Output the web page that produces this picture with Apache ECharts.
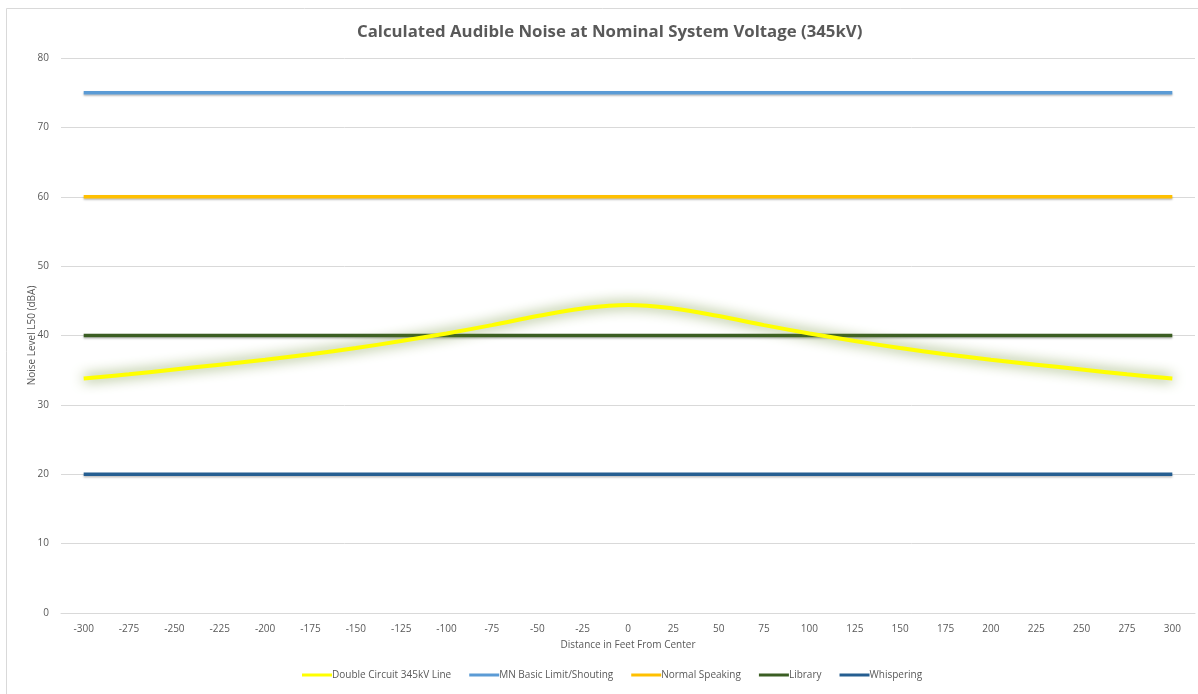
<!DOCTYPE html>
<html>
<head>
<meta charset="utf-8">
<script src="https://cdn.jsdelivr.net/npm/echarts@6/dist/echarts.min.js"></script>
<style>html,body{margin:0;padding:0;background:#fff;}#c{width:1198px;height:694px;}</style>
</head>
<body>
<div id="c"></div>
<script>
const categories = ['-300','-275','-250','-225','-200','-175','-150','-125','-100','-75','-50','-25','0','25','50','75','100','125','150','175','200','225','250','275','300'];
const doubleCircuit = [33.8,34.4,35.1,35.8,36.5,37.3,38.2,39.2,40.3,41.5,42.8,43.9,44.4,43.9,42.8,41.5,40.3,39.2,38.2,37.3,36.5,35.8,35.1,34.4,33.8];
const shouting = [75,75,75,75,75,75,75,75,75,75,75,75,75,75,75,75,75,75,75,75,75,75,75,75,75];
const speaking = [60,60,60,60,60,60,60,60,60,60,60,60,60,60,60,60,60,60,60,60,60,60,60,60,60];
const library = [40,40,40,40,40,40,40,40,40,40,40,40,40,40,40,40,40,40,40,40,40,40,40,40,40];
const whispering = [20,20,20,20,20,20,20,20,20,20,20,20,20,20,20,20,20,20,20,20,20,20,20,20,20];
const seriesNames = ['Double Circuit 345kV Line','MN Basic Limit/Shouting','Normal Speaking','Library','Whispering'];

const FONT = '"Open Sans", "Liberation Sans", sans-serif';
const chart = echarts.init(document.getElementById('c'), null, {renderer: 'canvas'});

function flat(name, data, color) {
  return {
    name, type: 'line', data, showSymbol: false, symbol: 'none', z: 2,
    lineStyle: {color, width: 3.5, shadowColor: 'rgba(0,0,0,0.25)', shadowBlur: 2, shadowOffsetY: 1.5},
    itemStyle: {color}
  };
}

chart.setOption({
  animation: false,
  backgroundColor: '#fff',
  graphic: [{
    type: 'rect', shape: {x: 6.5, y: 8.5, width: 1400, height: 900},
    style: {fill: 'none', stroke: '#d9d9d9', lineWidth: 1}, silent: true, z: -10
  }],
  title: {
    text: 'Calculated Audible Noise at Nominal System Voltage (345kV)',
    left: 352, top: 19,
    textStyle: {fontFamily: FONT, fontSize: 16.8, fontWeight: 'bold', color: '#595959'}
  },
  grid: {left: 61, right: 3, top: 58, bottom: 81, containLabel: false},
  legend: {
    bottom: 9, left: 297, icon: 'rect', itemWidth: 30, itemHeight: 3, itemGap: 18,
    data: seriesNames,
    textStyle: {fontFamily: FONT, fontSize: 10, color: '#595959', padding: [0, 0, 0, -5]}
  },
  xAxis: {
    type: 'category', data: categories, boundaryGap: true,
    name: 'Distance in Feet From Center', nameLocation: 'middle', nameGap: 27,
    nameTextStyle: {fontFamily: FONT, fontSize: 10, color: '#595959'},
    axisLine: {show: true, lineStyle: {color: '#d9d9d9'}},
    axisTick: {show: false},
    axisLabel: {fontFamily: FONT, fontSize: 10, color: '#595959', margin: 11}
  },
  yAxis: {
    type: 'value', min: 0, max: 80, interval: 10,
    name: 'Noise Level L50 (dBA)', nameLocation: 'middle', nameGap: 24, nameRotate: 90,
    nameMoveOverlap: false,
    nameTextStyle: {fontFamily: FONT, fontSize: 10, color: '#595959'},
    axisLine: {show: false}, axisTick: {show: false},
    splitLine: {lineStyle: {color: '#d9d9d9'}},
    axisLabel: {fontFamily: FONT, fontSize: 10, color: '#595959', margin: 12}
  },
  series: [
    {
      name: seriesNames[0], type: 'line', data: doubleCircuit, smooth: 0.4, showSymbol: false, symbol: 'none', z: 3,
      lineStyle: {color: '#ffff00', width: 4, shadowColor: 'rgba(100,135,40,1)', shadowBlur: 13},
      itemStyle: {color: '#ffff00'}
    },
    flat(seriesNames[1], shouting, '#5b9bd5'),
    flat(seriesNames[2], speaking, '#ffc000'),
    flat(seriesNames[3], library, '#3b5e23'),
    flat(seriesNames[4], whispering, '#255e91')
  ]
});
</script>
</body>
</html>
